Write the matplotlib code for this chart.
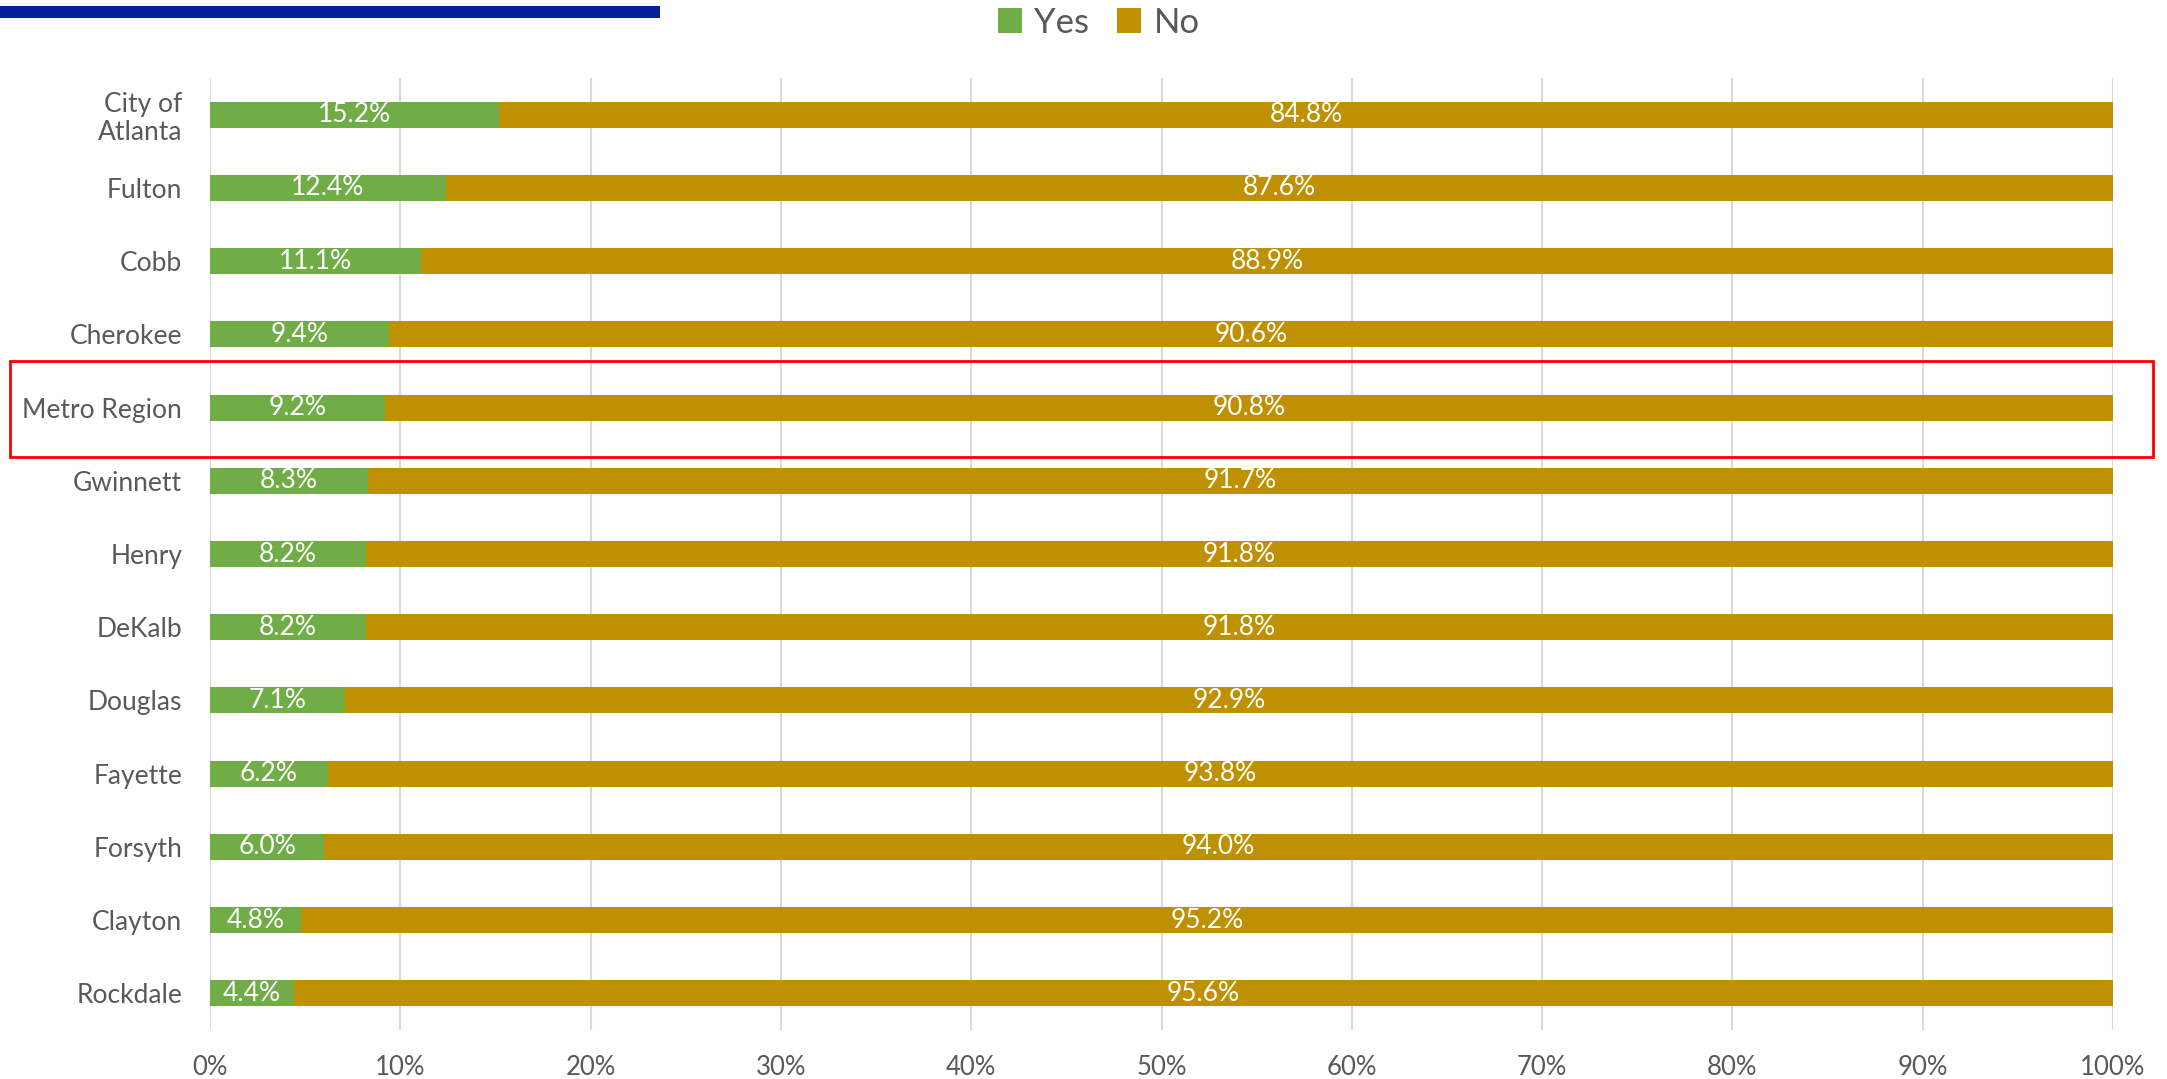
import matplotlib
matplotlib.use("Agg")
import matplotlib.pyplot as plt
from matplotlib.patches import Patch, Rectangle
import numpy as np

plt.rcParams['font.family'] = ['Lato', 'DejaVu Sans']

categories = ["City of\nAtlanta", "Fulton", "Cobb", "Cherokee", "Metro Region",
              "Gwinnett", "Henry", "DeKalb", "Douglas", "Fayette", "Forsyth",
              "Clayton", "Rockdale"]
yes_vals = [15.2, 12.4, 11.1, 9.4, 9.2, 8.3, 8.2, 8.2, 7.1, 6.2, 6.0, 4.8, 4.4]
no_vals = [84.8, 87.6, 88.9, 90.6, 90.8, 91.7, 91.8, 91.8, 92.9, 93.8, 94.0, 95.2, 95.6]
series_names = ["Yes", "No"]
xtick_vals = [0, 10, 20, 30, 40, 50, 60, 70, 80, 90, 100]
xtick_labels = [f"{v}%" for v in xtick_vals]

green = "#70AD47"
gold = "#BF9000"
text_gray = "#595959"

W, H = 2167, 1079
fig = plt.figure(figsize=(W / 100, H / 100), dpi=100)
ax = fig.add_axes([210 / W, 1 - 1030 / H, (2113 - 210) / W, (1030 - 78) / H])

y = np.arange(len(categories))
bh = 0.355
yes_arr = np.array(yes_vals)
no_arr = np.array(no_vals)
ax.barh(y, yes_arr, height=bh, color=green, zorder=3)
ax.barh(y, no_arr, left=yes_arr, height=bh, color=gold, zorder=3)

for i in range(len(categories)):
    ax.text(yes_arr[i] / 2, y[i], f"{yes_vals[i]:.1f}%", ha="center", va="center",
            color="white", fontsize=19, zorder=4)
    ax.text(yes_arr[i] + no_arr[i] / 2, y[i], f"{no_vals[i]:.1f}%", ha="center",
            va="center", color="white", fontsize=19, zorder=4)

ax.set_xlim(0, 100)
ax.set_ylim(len(categories) - 0.5, -0.5)
ax.set_yticks(y)
ax.set_yticklabels(categories, fontsize=19, color=text_gray, linespacing=1.15)
ax.set_xticks(xtick_vals)
ax.set_xticklabels(xtick_labels, fontsize=18.5, color=text_gray)
ax.tick_params(axis="both", length=0)
ax.tick_params(axis="y", pad=20)
ax.tick_params(axis="x", pad=18)
ax.xaxis.grid(True, color="#D9D9D9", linewidth=1.5, zorder=0)
ax.set_axisbelow(True)
for s in ax.spines.values():
    s.set_visible(False)

# legend
handles = [Patch(facecolor=green, edgecolor="none"), Patch(facecolor=gold, edgecolor="none")]
leg = fig.legend(handles, series_names, loc="center", bbox_to_anchor=(0.507, 0.979),
                 ncol=2, frameon=False, fontsize=25, handlelength=0.7, handleheight=0.7,
                 handletextpad=0.35, columnspacing=0.8)
for t in leg.get_texts():
    t.set_color(text_gray)

# header blue bar
fig.patches.append(Rectangle((0, 1 - 18 / H), 660 / W, 12 / H, transform=fig.transFigure,
                             facecolor="#03209A", edgecolor="none"))

# highlight box around Metro Region
fig.patches.append(Rectangle((10 / W, 1 - 457 / H), (2153 - 10) / W, (457 - 361) / H,
                             transform=fig.transFigure, facecolor="none",
                             edgecolor="#FF0000", linewidth=2))

fig.savefig("out.png", dpi=100)
